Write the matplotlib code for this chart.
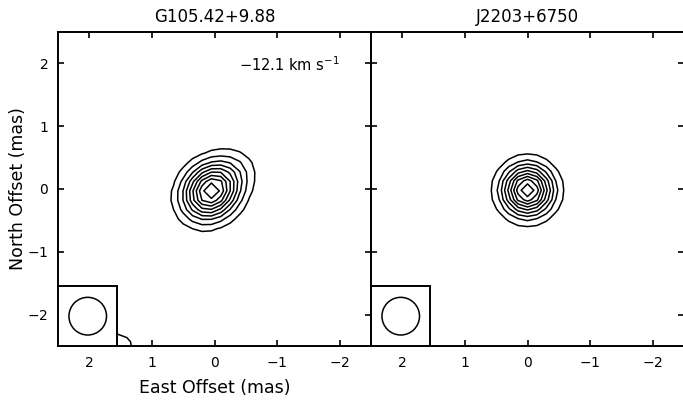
import numpy as np
import matplotlib
matplotlib.use('Agg')
import matplotlib.pyplot as plt
from matplotlib.patches import Rectangle, Circle

plt.rcParams['font.family'] = ['DejaVu Sans']

# ── Map setup ─────────────────────────────────────────────────────────
titles     = ['G105.42+9.88', 'J2203+6750']
vlsr_label = '$-$12.1 km s$^{-1}$'
ticks      = [-2, -1, 0, 1, 2]
tick_lbls  = ['$-$2', '$-$1', '0', '1', '2']
lim        = 2.5
pix        = 0.15                   # map cell size (mas)
levels     = [0.1, 0.2, 0.3, 0.4, 0.5, 0.6, 0.7, 0.8, 0.9]   # fraction of peak

# beam (circular restoring beam, mas)
beam_x, beam_y, beam_r = 2.025, -2.025, 0.30
box_x0, box_x1         = 1.55, 2.5
box_y0, box_y1         = -2.5, -1.55

# gaussian components: amplitude, x0, y0, sigma_major, sigma_minor, PA (deg)
maser_amp  = [1.00, 0.08, 0.16]
maser_x0   = [0.05, -0.40, 1.55]
maser_y0   = [-0.03, 0.35, -2.55]
maser_smaj = [0.32, 0.22, 0.25]
maser_smin = [0.27, 0.22, 0.25]
maser_pa   = [-45.0, 0.0, 0.0]

cal_amp  = [1.00]
cal_x0   = [0.00]
cal_y0   = [-0.02]
cal_smaj = [0.265]
cal_smin = [0.265]
cal_pa   = [0.0]


def make_map(amp, x0, y0, smaj, smin, pa):
    # cell grid referenced to the brightest component
    gx = x0[0] + np.arange(-20, 21) * pix
    gy = y0[0] + np.arange(-20, 21) * pix
    X, Y = np.meshgrid(gx, gy)
    img = np.zeros_like(X)
    for a, xc, yc, sa, sb, p in zip(amp, x0, y0, smaj, smin, pa):
        t = np.radians(p)
        u = (X - xc) * np.sin(t) + (Y - yc) * np.cos(t)
        v = (X - xc) * np.cos(t) - (Y - yc) * np.sin(t)
        img += a * np.exp(-0.5 * ((u / sa) ** 2 + (v / sb) ** 2))
    return X, Y, img


maps = [make_map(maser_amp, maser_x0, maser_y0, maser_smaj, maser_smin, maser_pa),
        make_map(cal_amp, cal_x0, cal_y0, cal_smaj, cal_smin, cal_pa)]

# ── Figure ────────────────────────────────────────────────────────────
fig = plt.figure(figsize=(6.83, 4.0), dpi=100)
ax_w, ax_h = 313 / 683, 314 / 400
positions  = [[58 / 683, 54 / 400, ax_w, ax_h],
              [371 / 683, 54 / 400, ax_w, ax_h]]

for i, (pos, (X, Y, img), title) in enumerate(zip(positions, maps, titles)):
    ax = fig.add_axes(pos)
    peak = img.max()
    ax.contour(X, Y, img, levels=[l * peak for l in levels],
               colors='black', linewidths=1.1)

    # beam inset
    ax.add_patch(Rectangle((box_x0, box_y0), box_x1 - box_x0, box_y1 - box_y0,
                           facecolor='white', edgecolor='black', lw=1.4, zorder=5))
    ax.add_patch(Circle((beam_x, beam_y), beam_r, facecolor='none',
                        edgecolor='black', lw=1.1, zorder=6))

    ax.set_xlim(lim, -lim)
    ax.set_ylim(-lim, lim)
    ax.set_xticks(ticks)
    ax.set_yticks(ticks)
    ax.set_xticklabels(tick_lbls)
    ax.set_yticklabels(tick_lbls)
    ax.tick_params(direction='in', length=4.5, width=1.2, top=True, right=True,
                   labelsize=10, pad=7)
    for sp in ax.spines.values():
        sp.set_linewidth(1.4)
    ax.set_title(title, fontsize=12, pad=7)

    if i == 0:
        ax.set_xlabel('East Offset (mas)', fontsize=12.5, labelpad=7)
        ax.set_ylabel('North Offset (mas)', fontsize=12.5, labelpad=0)
        ax.text(-1.2, 1.98, vlsr_label, fontsize=10.5, ha='center', va='center')
    else:
        ax.tick_params(labelleft=False)

fig.savefig('out.png', dpi=100)
